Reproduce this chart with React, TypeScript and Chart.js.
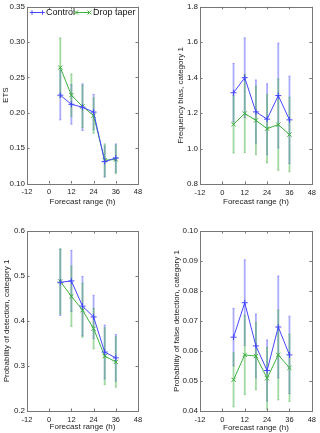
import React, { useEffect, useRef } from 'react';
import { Chart, registerables } from 'chart.js';
Chart.register(...registerables);

// ---- data ----
const hours = [6, 12, 18, 24, 30, 36];
const seriesNames = ['Control', 'Drop taper'];
const xAxisTitle = 'Forecast range (h)';

const etsControl = [0.225, 0.212, 0.208, 0.201, 0.131, 0.136];
const etsControlErr = [0.035, 0.028, 0.033, 0.025, 0.022, 0.02];
const etsDrop = [0.264, 0.225, 0.209, 0.196, 0.133, 0.134];
const etsDropErr = [0.042, 0.03, 0.03, 0.025, 0.023, 0.02];

const fbControl = [1.315, 1.4, 1.207, 1.166, 1.299, 1.162];
const fbControlErr = [0.165, 0.225, 0.18, 0.2, 0.296, 0.247];
const fbDrop = [1.137, 1.198, 1.159, 1.112, 1.135, 1.079];
const fbDropErr = [0.162, 0.22, 0.193, 0.193, 0.258, 0.21];

const podControl = [0.486, 0.489, 0.433, 0.409, 0.331, 0.318];
const podControlErr = [0.074, 0.068, 0.066, 0.048, 0.06, 0.052];
const podDrop = [0.488, 0.455, 0.424, 0.383, 0.322, 0.309];
const podDropErr = [0.072, 0.067, 0.06, 0.045, 0.063, 0.056];

const pofdControl = [0.0646, 0.0761, 0.0617, 0.0535, 0.068, 0.0587];
const pofdControlErr = [0.0096, 0.0143, 0.0106, 0.0102, 0.017, 0.0129];
const pofdDrop = [0.0504, 0.0587, 0.0583, 0.0509, 0.0587, 0.0544];
const pofdDropErr = [0.009, 0.0132, 0.0112, 0.0103, 0.015, 0.0112];

const BLUE = 'rgb(70,70,255)';
const BLUE_ERR = 'rgba(90,90,255,0.5)';
const GREEN = 'rgb(60,175,60)';
const GREEN_ERR = 'rgba(70,180,70,0.5)';
const FONT = '"Liberation Sans", Arial, sans-serif';

type PanelSpec = {
  left: number; top: number; w: number; h: number;
  area: { l: number; r: number; t: number; b: number };
  yMin: number; yMax: number; yStep: number; dec: number;
  yTitle: string; yTitlePad: number; xTitlePad: number;
  control: number[]; controlErr: number[]; drop: number[]; dropErr: number[];
  legend?: boolean;
};

const errorBarPlugin = {
  id: 'errbars',
  beforeDatasetsDraw(chart: any) {
    const ctx = chart.ctx;
    const xs = chart.scales.x, ys = chart.scales.y;
    chart.data.datasets.forEach((ds: any) => {
      const errs: number[] = ds.errs;
      ctx.save();
      ctx.strokeStyle = ds.errColor;
      ctx.lineWidth = 1.8;
      ds.data.forEach((p: any, j: number) => {
        const x = xs.getPixelForValue(p.x);
        const y1 = ys.getPixelForValue(p.y - errs[j]);
        const y2 = ys.getPixelForValue(p.y + errs[j]);
        ctx.beginPath();
        ctx.moveTo(x, y1); ctx.lineTo(x, y2);
        ctx.stroke();
        ctx.lineWidth = 1;
        ctx.beginPath();
        ctx.moveTo(x - 1, y1); ctx.lineTo(x + 1, y1);
        ctx.moveTo(x - 1, y2); ctx.lineTo(x + 1, y2);
        ctx.stroke();
        ctx.lineWidth = 1.8;
      });
      ctx.restore();
    });
  },
};

const boxPlugin = {
  id: 'boxticks',
  afterDraw(chart: any) {
    const ctx = chart.ctx;
    const a = chart.chartArea;
    const xs = chart.scales.x, ys = chart.scales.y;
    ctx.save();
    ctx.strokeStyle = '#777';
    ctx.lineWidth = 1;
    ctx.strokeRect(Math.round(a.left) + 0.5, Math.round(a.top) + 0.5,
      Math.round(a.right - a.left), Math.round(a.bottom - a.top));
    const tl = 2.5;
    ctx.beginPath();
    xs.ticks.forEach((t: any) => {
      const x = Math.round(xs.getPixelForValue(t.value)) + 0.5;
      ctx.moveTo(x, a.bottom); ctx.lineTo(x, a.bottom - tl);
      ctx.moveTo(x, a.top); ctx.lineTo(x, a.top + tl);
    });
    ys.ticks.forEach((t: any) => {
      const y = Math.round(ys.getPixelForValue(t.value)) + 0.5;
      ctx.moveTo(a.left, y); ctx.lineTo(a.left + tl, y);
      ctx.moveTo(a.right, y); ctx.lineTo(a.right - tl, y);
    });
    ctx.stroke();
    ctx.restore();
  },
};

function drawPlus(ctx: any, x: number, y: number, r: number) {
  ctx.moveTo(x - r, y); ctx.lineTo(x + r, y);
  ctx.moveTo(x, y - r); ctx.lineTo(x, y + r);
}
function drawX(ctx: any, x: number, y: number, r: number) {
  ctx.moveTo(x - r, y - r); ctx.lineTo(x + r, y + r);
  ctx.moveTo(x - r, y + r); ctx.lineTo(x + r, y - r);
}

const legendPlugin = {
  id: 'innerLegend',
  afterDraw(chart: any) {
    if (!chart.options.plugins.innerLegend?.show) return;
    const ctx = chart.ctx;
    const y = 12.5;
    ctx.save();
    ctx.lineWidth = 1;
    ctx.strokeStyle = BLUE;
    ctx.beginPath();
    ctx.moveTo(32, y); ctx.lineTo(43, y);
    drawPlus(ctx, 32, y, 2.2); drawPlus(ctx, 42.5, y, 2.2);
    ctx.stroke();
    ctx.strokeStyle = GREEN;
    ctx.beginPath();
    ctx.moveTo(76, y); ctx.lineTo(90, y);
    drawX(ctx, 76, y, 2); drawX(ctx, 89.5, y, 2);
    ctx.stroke();
    ctx.fillStyle = '#111';
    ctx.font = `9px ${FONT}`;
    ctx.textBaseline = 'middle';
    ctx.fillText(seriesNames[0], 46, y + 0.5);
    ctx.fillText(seriesNames[1], 93, y + 0.5);
    ctx.restore();
  },
};

function Panel({ spec }: { spec: PanelSpec }) {
  const ref = useRef<HTMLCanvasElement>(null);
  useEffect(() => {
    const s = spec;
    const mk = (vals: number[]) => hours.map((h, i) => ({ x: h, y: vals[i] }));
    const chart = new Chart(ref.current!, {
      type: 'scatter',
      data: {
        datasets: [
          {
            label: seriesNames[0], data: mk(s.control), showLine: true,
            borderColor: BLUE, backgroundColor: BLUE, borderWidth: 1,
            pointStyle: 'cross', pointRadius: 3, pointBorderWidth: 1,
            pointBorderColor: BLUE,
            errs: s.controlErr, errColor: BLUE_ERR,
          } as any,
          {
            label: seriesNames[1], data: mk(s.drop), showLine: true,
            borderColor: GREEN, backgroundColor: GREEN, borderWidth: 1,
            pointStyle: 'crossRot', pointRadius: 3, pointBorderWidth: 1,
            pointBorderColor: GREEN,
            errs: s.dropErr, errColor: GREEN_ERR,
          } as any,
        ],
      },
      options: {
        responsive: false,
        animation: false,
        events: [],
        layout: { padding: { left: 0, top: s.area.t, right: s.w - s.area.r, bottom: 0 } },
        plugins: {
          legend: { display: false },
          tooltip: { enabled: false },
          innerLegend: { show: !!s.legend },
        } as any,
        scales: {
          x: {
            type: 'linear', min: -12, max: 48,
            afterFit: (sc: any) => { sc.height = s.h - s.area.b; },
            ticks: { stepSize: 12, autoSkip: false, maxRotation: 0, padding: 4, color: '#222', font: { size: 7.5, family: FONT } },
            grid: { display: false, drawTicks: false },
            border: { display: false },
            title: { display: true, text: xAxisTitle, color: '#222', font: { size: 8, family: FONT }, padding: { top: 0, bottom: s.xTitlePad } },
          },
          y: {
            type: 'linear', min: s.yMin, max: s.yMax,
            afterFit: (sc: any) => { sc.width = s.area.l; },
            ticks: {
              stepSize: s.yStep, autoSkip: false, padding: 2, color: '#222',
              font: { size: 8, family: FONT },
              callback: (v: any) => Number(v).toFixed(s.dec),
            },
            grid: { display: false, drawTicks: false },
            border: { display: false },
            title: { display: true, text: s.yTitle, color: '#222', font: { size: 8, family: FONT }, padding: { top: s.yTitlePad, bottom: 0 } },
          },
        },
      },
      plugins: [errorBarPlugin, boxPlugin, legendPlugin],
    });
    return () => chart.destroy();
  }, [spec]);
  return (
    <div style={{ position: 'absolute', left: spec.left, top: spec.top, width: spec.w, height: spec.h }}>
      <canvas ref={ref} width={spec.w} height={spec.h} style={{ display: 'block' }} />
    </div>
  );
}

const panels: PanelSpec[] = [
  {
    left: 0, top: 0, w: 160, h: 210, area: { l: 27, r: 138, t: 5, b: 183.5 },
    yMin: 0.1, yMax: 0.35, yStep: 0.05, dec: 2, yTitle: 'ETS', yTitlePad: 1, xTitlePad: 3.5,
    control: etsControl, controlErr: etsControlErr, drop: etsDrop, dropErr: etsDropErr, legend: true,
  },
  {
    left: 160, top: 0, w: 160, h: 210, area: { l: 40, r: 154, t: 4, b: 184 },
    yMin: 0.8, yMax: 1.8, yStep: 0.2, dec: 1, yTitle: 'Frequency bias, category 1', yTitlePad: 16, xTitlePad: 3.5,
    control: fbControl, controlErr: fbControlErr, drop: fbDrop, dropErr: fbDropErr,
  },
  {
    left: 0, top: 210, w: 160, h: 223, area: { l: 27, r: 138, t: 21, b: 201 },
    yMin: 0.2, yMax: 0.6, yStep: 0.1, dec: 1, yTitle: 'Probability of detection, category 1', yTitlePad: 2, xTitlePad: 1,
    control: podControl, controlErr: podControlErr, drop: podDrop, dropErr: podDropErr,
  },
  {
    left: 160, top: 210, w: 160, h: 223, area: { l: 40, r: 154, t: 21, b: 201 },
    yMin: 0.04, yMax: 0.1, yStep: 0.01, dec: 2, yTitle: 'Probability of false detection, category 1', yTitlePad: 12, xTitlePad: 0.5,
    control: pofdControl, controlErr: pofdControlErr, drop: pofdDrop, dropErr: pofdDropErr,
  },
];

export default function App() {
  return (
    <div style={{ position: 'fixed', left: 0, top: 0, width: 320, height: 433, background: '#fff' }}>
      {panels.map((p, i) => <Panel key={i} spec={p} />)}
    </div>
  );
}
